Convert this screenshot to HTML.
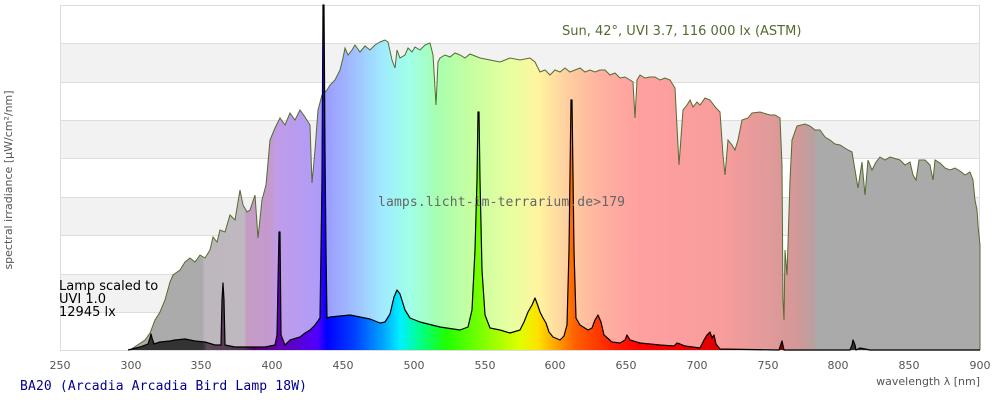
<!DOCTYPE html>
<html><head><meta charset="utf-8"><style>
html,body{margin:0;padding:0;background:#fff;}
svg{display:block;}
</style></head><body>
<svg width="1000" height="400" viewBox="0 0 1000 400" xmlns="http://www.w3.org/2000/svg">
<defs>
<linearGradient id="sunG" gradientUnits="userSpaceOnUse" x1="60" y1="0" x2="980" y2="0">
<stop offset="0" stop-color="#aaaaaa"/>
<stop offset="0.155" stop-color="#ababab"/>
<stop offset="0.157" stop-color="#bdb8bd"/>
<stop offset="0.2" stop-color="#c0b8c0"/>
<stop offset="0.203" stop-color="#c59cc2"/>
<stop offset="0.23" stop-color="#c49ad0"/>
<stop offset="0.235" stop-color="#c09ce8"/>
<stop offset="0.28" stop-color="#b09cf8"/>
<stop offset="0.29" stop-color="#9c9cff"/>
<stop offset="0.32" stop-color="#a0c0ff"/>
<stop offset="0.35" stop-color="#a0eaff"/>
<stop offset="0.38" stop-color="#a0ffe8"/>
<stop offset="0.41" stop-color="#a8ffb0"/>
<stop offset="0.45" stop-color="#c8ffa0"/>
<stop offset="0.49" stop-color="#e8ffa0"/>
<stop offset="0.52" stop-color="#fff4a0"/>
<stop offset="0.55" stop-color="#ffd0a0"/>
<stop offset="0.59" stop-color="#ffb0a0"/>
<stop offset="0.63" stop-color="#ffa0a0"/>
<stop offset="0.72" stop-color="#f89c9c"/>
<stop offset="0.80" stop-color="#d49898"/>
<stop offset="0.82" stop-color="#b8a0a0"/>
<stop offset="0.8225" stop-color="#aaaaaa"/>
<stop offset="1" stop-color="#aaaaaa"/>
</linearGradient>
<linearGradient id="lampG" gradientUnits="userSpaceOnUse" x1="60" y1="0" x2="980" y2="0">
<stop offset="0" stop-color="#333"/>
<stop offset="0.155" stop-color="#333"/>
<stop offset="0.16" stop-color="#5a4a5a"/>
<stop offset="0.2" stop-color="#503050"/>
<stop offset="0.21" stop-color="#500070"/>
<stop offset="0.24" stop-color="#6000b0"/>
<stop offset="0.28" stop-color="#5000ff"/>
<stop offset="0.29" stop-color="#0000ff"/>
<stop offset="0.32" stop-color="#0040ff"/>
<stop offset="0.35" stop-color="#00a0ff"/>
<stop offset="0.37" stop-color="#00f0ff"/>
<stop offset="0.39" stop-color="#00ff90"/>
<stop offset="0.42" stop-color="#20ff00"/>
<stop offset="0.46" stop-color="#80ff00"/>
<stop offset="0.5" stop-color="#e0ff00"/>
<stop offset="0.52" stop-color="#ffe000"/>
<stop offset="0.54" stop-color="#ffa000"/>
<stop offset="0.56" stop-color="#ff6000"/>
<stop offset="0.6" stop-color="#ff2000"/>
<stop offset="0.63" stop-color="#ff0000"/>
<stop offset="0.72" stop-color="#e00000"/>
<stop offset="0.8" stop-color="#800000"/>
<stop offset="0.82" stop-color="#333"/>
<stop offset="1" stop-color="#333"/>
</linearGradient>
</defs>
<!-- bands -->
<rect x="60" y="5" width="920" height="345" fill="#fff"/>
<rect x="60" y="43" width="920" height="39" fill="#f2f2f2"/>
<rect x="60" y="120" width="920" height="38" fill="#f2f2f2"/>
<rect x="60" y="197" width="920" height="38" fill="#f2f2f2"/>
<rect x="60" y="274" width="920" height="38" fill="#f2f2f2"/>
<g stroke="#dddddd" stroke-width="1">
<line x1="60" y1="43.5" x2="980" y2="43.5"/><line x1="60" y1="82.5" x2="980" y2="82.5"/>
<line x1="60" y1="120.5" x2="980" y2="120.5"/><line x1="60" y1="158.5" x2="980" y2="158.5"/>
<line x1="60" y1="197.5" x2="980" y2="197.5"/><line x1="60" y1="235.5" x2="980" y2="235.5"/>
<line x1="60" y1="274.5" x2="980" y2="274.5"/><line x1="60" y1="312.5" x2="980" y2="312.5"/>
</g>
<rect x="60.5" y="5.5" width="919" height="345" fill="none" stroke="#dddddd"/>
<!-- sun -->
<polyline fill="url(#sunG)" stroke="#556b2f" stroke-width="1" points="130,350 145,340 150,333 155,320 160,312 165,300 170,282 173,275 180,270 185,262 190,258 195,262 200,255 205,258 210,250 213,237 217,242 220,230 225,232 230,215 235,220 240,190 243,205 247,212 250,210 255,195 258,238 262,200 266,185 270,140 275,128 280,118 285,125 290,113 295,120 300,110 305,117 310,125 312,183 315,150 318,110 322,95 327,90 330,85 335,80 340,70 343,58 345,48 348,55 352,50 355,45 360,52 365,46 370,50 375,45 380,42 385,40 388,42 392,60 395,68 397,50 400,58 405,55 408,48 412,52 415,47 420,50 425,45 430,43 433,55 436,105 438,62 440,58 445,55 450,57 455,53 460,55 465,58 470,54 480,58 490,60 500,62 510,58 520,60 530,58 535,62 540,72 545,70 550,75 555,70 560,72 565,68 570,72 575,70 580,68 585,72 590,70 595,72 600,70 605,70 610,75 615,73 620,78 625,77 630,80 633,82 635,118 637,80 640,75 645,78 650,77 655,77 660,80 665,78 670,80 675,88 679,165 683,110 687,105 690,100 693,107 697,102 700,105 705,98 710,100 716,108 720,112 723,155 725,175 728,140 732,145 735,150 738,140 742,120 748,118 752,113 760,112 770,115 775,115 780,118 782,165 783,300 784,320 785,250 787,275 790,180 792,140 797,126 805,124 810,126 815,130 820,130 825,137 830,140 835,144 840,145 848,150 852,152 855,170 858,188 862,162 865,195 868,160 872,170 876,162 880,157 885,160 890,157 900,160 905,165 910,162 913,175 916,180 919,160 925,160 930,165 933,180 935,160 940,163 945,168 950,170 955,168 960,171 965,175 970,172 973,180 975,200 977,210 978,225 980,245 980,350"/>
<!-- lamp -->
<polyline fill="url(#lampG)" stroke="#000" stroke-width="1.2" stroke-linejoin="round" points="128,350 140,347 148,344 150,338 151,334 152,338 154,344 160,342 170,341 175,340 185,339 195,341 205,342 215,345 221,345 222,300 223,283 224,300 225,345 235,347 250,347 265,347 275,345 277,335 279,232 280,232 281,335 285,345 290,340 300,337 305,333 310,330 315,325 320,318 321,250 322,180 323,5 324,5 325,150 326,250 327,318 330,317 340,316 350,315 360,317 370,319 380,323 385,322 390,314 394,297 397,290 400,294 405,310 410,318 420,322 440,327 460,330 468,327 472,310 475,250 477,180 478,112 479,112 480,180 482,270 485,315 490,328 500,330 510,333 520,330 524,322 528,312 532,305 535,298 538,306 540,312 543,318 546,323 549,332 553,337 560,340 564,336 567,325 569,250 571,100 572,100 574,250 576,318 580,325 588,330 592,328 595,320 598,315 601,322 604,335 612,342 620,343 625,340 627,335 630,340 640,343 660,345 674,346 677,343 680,344 685,346 700,348 704,340 707,335 710,332 712,338 714,335 716,344 720,349 779,350 781,344 782,341 784,350 850,350 852,345 853,340 855,345 856,350 860,348 870,350 980,350"/>
<!-- texts -->
<g font-family="'DejaVu Sans','Liberation Sans',sans-serif">
<text x="562" y="35" font-size="13" fill="#556b2f">Sun, 42°, UVI 3.7, 116 000 lx (ASTM)</text>
<text x="59" y="290" font-size="13" fill="#000">Lamp scaled to</text>
<text x="59" y="303" font-size="13" fill="#000">UVI 1.0</text>
<text x="59" y="316" font-size="13" fill="#000">12945 lx</text>
<g font-size="11" fill="#555" text-anchor="middle">
<text x="60" y="369">250</text><text x="131" y="369">300</text><text x="201" y="369">350</text>
<text x="272" y="369">400</text><text x="343" y="369">450</text><text x="414" y="369">500</text>
<text x="485" y="369">550</text><text x="555" y="369">600</text><text x="626" y="369">650</text>
<text x="697" y="369">700</text><text x="768" y="369">750</text><text x="838" y="369">800</text>
<text x="909" y="369">850</text><text x="980" y="369">900</text>
</g>
<text x="980" y="385" font-size="11" fill="#555" text-anchor="end">wavelength λ [nm]</text>
<text transform="translate(12,180) rotate(-90)" font-size="11" fill="#555" text-anchor="middle">spectral irradiance [µW/cm²/nm]</text>
</g>
<text x="378" y="206" font-family="'DejaVu Sans Mono','Liberation Mono',monospace" font-size="13" fill="#666" textLength="247">lamps.licht-im-terrarium.de&gt;179</text>
<text x="20" y="390" font-family="'DejaVu Sans Mono','Liberation Mono',monospace" font-size="13" fill="#000090" textLength="287">BA20 (Arcadia Arcadia Bird Lamp 18W)</text>
</svg>
</body></html>
